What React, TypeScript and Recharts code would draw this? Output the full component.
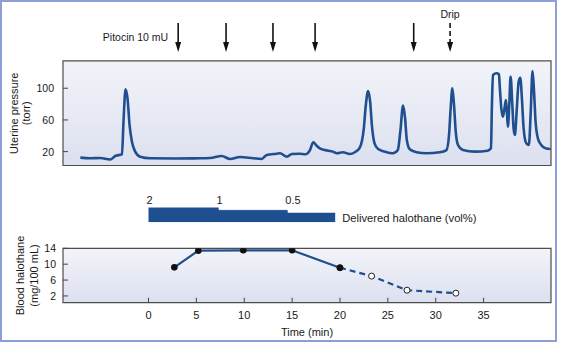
import React from "react";
import { LineChart, Line, AreaChart, Area, XAxis, YAxis, ReferenceArea, ReferenceLine } from "recharts";

const FONT = '"Liberation Sans", Arial, Helvetica, sans-serif';
const BLUE = "#1f4f8f";
const INK = "#1a1a1a";

// shared time axis (min)
const timeDomain: [number, number] = [-8.93, 42.04];
const timeTicks = [0, 5, 10, 15, 20, 25, 30, 35];

// uterine pressure trace
const uterineTime = [
  -7.12, -6.08, -5.04, -4.0, -3.47, -2.77, -2.61, -2.4, -2.19, -1.98, -1.73, -1.39, -0.87, 0.18, 2.78, 5.39,
  6.43, 7.65, 8.52, 9.56, 10.95, 11.82, 12.35, 13.39, 13.73, 14.46, 14.98, 15.82, 16.35, 16.87, 17.21, 17.56,
  17.9, 18.42, 19.26, 19.67, 20.3, 21.03, 21.55, 22.07, 22.49, 22.7, 22.94, 23.15, 23.33, 23.61, 23.98, 24.68,
  25.52, 26.04, 26.3, 26.59, 26.8, 26.98, 27.29, 27.99, 29.03, 30.42, 31.12, 31.39, 31.56, 31.74, 31.91, 32.09,
  32.33, 32.85, 34.07, 35.42, 35.77, 35.87, 35.98, 36.36, 36.6, 36.7, 36.85, 37.02, 37.19, 37.33, 37.43, 37.54,
  37.68, 37.82, 38.0, 38.13, 38.27, 38.45, 38.66, 38.83, 39.0, 39.18, 39.46, 39.73, 39.91, 40.11, 40.25, 40.43,
  40.67, 41.02, 41.47, 41.99,
];
const uterinePressure = [
  12.4, 11.6, 12.0, 10.0, 14.5, 16.7, 58, 98.7, 87, 53.6, 32.6, 20, 13.6, 11.6, 11.4, 11.6,
  12, 14.5, 10.7, 13.2, 11.6, 10.7, 15.8, 17.4, 17.9, 13.6, 17, 17.4, 16.6, 22, 31.8, 27.5,
  24.2, 22, 20, 17.9, 19.2, 17, 19.2, 25, 49.4, 78.9, 96.5, 83, 53.6, 30.5, 23.3, 20,
  17.9, 22, 45.2, 78, 62, 34.7, 23, 19.2, 17.9, 19.2, 22, 41, 74.7, 99.9, 78.9, 45.2,
  28.4, 22, 20, 21.2, 24.2, 78.9, 116.7, 118.9, 117.6, 99.9, 74.7, 64.1, 74.7, 85.2, 70.4, 51.5,
  78.9, 114.6, 78.9, 49.4, 41, 70.4, 108.3, 113.3, 87.3, 49.4, 30.5, 28.4, 66.2, 121.8, 99.9, 57.8,
  36.8, 28.4, 24.2, 23.3,
];
const pressureTicks = [20, 60, 100];
const pressurePanel: [number, number] = [2.5, 134.4];

// pitocin doses and drip start (min)
const pitocinTimes = [3.1, 8.1, 13.0, 17.4, 27.7];
const dripTime = 31.5;

// delivered halothane steps
const halothaneTime = [0, 7.3, 14.5, 19.5];
const halothaneLevel = [2, 1, 0.5, 0.5];
const halothaneLabels = ["2", "1", "0.5"];

// blood halothane (mg/100 mL)
const measuredTime = [2.7, 5.2, 9.9, 15.0, 20.0];
const measuredValue = [9.2, 13.4, 13.5, 13.5, 9.1];
const projectedTime = [20.0, 23.3, 27.0, 32.1];
const projectedValue = [9.1, 7.0, 3.45, 2.7];
const bloodTicks = [2, 6, 10, 14];

const uterineData = uterineTime.map((t, i) => ({ t, p: uterinePressure[i] }));
const halothaneData = halothaneTime.map((t, i) => ({ t, level: halothaneLevel[i] }));
const measuredData = measuredTime.map((t, i) => ({ t, v: measuredValue[i] }));
const projectedData = projectedTime.map((t, i) => ({ t, v: projectedValue[i] }));

function YTick(props: any) {
  const { x, y, payload, gap } = props;
  return (
    <g>
      <line x1={x} x2={x + 5} y1={y} y2={y} stroke="#444" strokeWidth={1} />
      <text x={x - gap} y={y} textAnchor="end" dominantBaseline="central" fontSize={10.5} fill={INK}>
        {payload.value}
      </text>
    </g>
  );
}

function XTick(props: any) {
  const { x, y, payload } = props;
  return (
    <g>
      <line x1={x} x2={x} y1={y - 5} y2={y} stroke="#444" strokeWidth={1} />
      <text x={x} y={y + 12.5} textAnchor="middle" dominantBaseline="central" fontSize={11} fill={INK}>
        {payload.value}
      </text>
    </g>
  );
}

function SideLabel(props: any) {
  const { viewBox, lines, offsets } = props;
  const cy = viewBox.y + viewBox.height / 2;
  return (
    <g>
      {lines.map((s: string, i: number) => {
        const x = viewBox.x - offsets[i];
        return (
          <text key={i} x={x} y={cy} transform={`rotate(-90 ${x} ${cy})`} textAnchor="middle"
            dominantBaseline="central" fontSize={11} fill={INK}>
            {s}
          </text>
        );
      })}
    </g>
  );
}

function Arrow(props: any) {
  const { x1, y1, y2, dashed, note, noteSide } = props;
  const top = Math.min(y1, y2);
  const tip = Math.max(y1, y2);
  return (
    <g>
      <line x1={x1} x2={x1} y1={top} y2={tip - 8} stroke="#111" strokeWidth={1.6}
        strokeDasharray={dashed ? "5 3" : undefined} />
      <polygon points={`${x1 - 3},${tip - 10} ${x1 + 3},${tip - 10} ${x1},${tip}`} fill="#111" />
      {note && noteSide === "left" && (
        <text x={x1 - 10} y={(top + tip) / 2} textAnchor="end" dominantBaseline="central" fontSize={10.5} fill={INK}>
          {note}
        </text>
      )}
      {note && noteSide === "top" && (
        <text x={x1} y={top - 9} textAnchor="middle" dominantBaseline="central" fontSize={10.5} fill={INK}>
          {note}
        </text>
      )}
    </g>
  );
}

function halothaneLabel(props: any) {
  const idx = props.index;
  const x = props.x ?? props.viewBox?.x;
  const y = props.y ?? props.viewBox?.y;
  if (idx === undefined || x === undefined) return null;
  if (idx < halothaneLabels.length) {
    return (
      <text key={idx} x={x - 2} y={10} textAnchor="start" dominantBaseline="central" fontSize={11} fill={INK}>
        {halothaneLabels[idx]}
      </text>
    );
  }
  return (
    <text key={idx} x={x + 7} y={y + 5} textAnchor="start" dominantBaseline="central" fontSize={11.2} fill={INK}>
      Delivered halothane (vol%)
    </text>
  );
}

const ARROW_TOP = 182.3;
const ARROW_TIP = 145.7;

export default function App() {
  return (
    <div style={{ position: "fixed", left: 0, top: 0, width: 561, height: 344, background: "#fff", fontFamily: FONT }}>
      <div style={{ position: "absolute", left: 0, top: 0, width: 557, height: 342, boxSizing: "border-box", border: "2px solid #8d9fd8" }} />

      <div style={{ position: "absolute", left: 0, top: 0 }}>
        <LineChart width={561} height={170} data={uterineData} margin={{ top: 5, right: 10, bottom: 4.5, left: 0 }}>
          <defs>
            <linearGradient id="panelTop" x1="0" y1="0" x2="0" y2="1">
              <stop offset="0" stopColor="#f3f4fa" />
              <stop offset="1" stopColor="#dce0ef" />
            </linearGradient>
          </defs>
          <XAxis type="number" dataKey="t" domain={timeDomain} allowDataOverflow hide />
          <YAxis type="number" domain={[2.5, 205]} allowDataOverflow ticks={pressureTicks} interval={0} width={63}
            axisLine={false} tickLine={false} tickSize={0} tickMargin={0} tick={(p: any) => <YTick {...p} gap={9} />} />
          <ReferenceArea x1={timeDomain[0]} x2={timeDomain[1]} y1={pressurePanel[0]} y2={pressurePanel[1]}
            fill="url(#panelTop)" fillOpacity={1} stroke="#4d4d4d" strokeWidth={1.2}
            label={<SideLabel lines={["Uterine pressure", "(torr)"]} offsets={[49, 37]} />} />
          {pitocinTimes.map((t, i) => (
            <ReferenceLine key={i} segment={[{ x: t, y: ARROW_TOP }, { x: t, y: ARROW_TIP }]}
              shape={(p: any) => <Arrow {...p} note={i === 0 ? "Pitocin 10 mU" : undefined} noteSide="left" />} />
          ))}
          <ReferenceLine segment={[{ x: dripTime, y: ARROW_TOP }, { x: dripTime, y: ARROW_TIP }]}
            shape={(p: any) => <Arrow {...p} dashed note="Drip" noteSide="top" />} />
          <Line type="monotone" dataKey="p" stroke={BLUE} strokeWidth={2.6} dot={false} isAnimationActive={false} />
        </LineChart>
      </div>

      <div style={{ position: "absolute", left: 0, top: 190 }}>
        <AreaChart width={561} height={40} data={halothaneData} margin={{ top: 17.5, right: 10, bottom: 7.7, left: 63 }}>
          <XAxis type="number" dataKey="t" domain={timeDomain} allowDataOverflow hide />
          <YAxis type="number" scale="log" domain={[0.0516, 2]} allowDataOverflow hide />
          <Area type="stepAfter" dataKey="level" baseValue="dataMin" fill="#1d4f91" fillOpacity={1} stroke="#17467f"
            strokeWidth={0.6} isAnimationActive={false} label={halothaneLabel} />
        </AreaChart>
      </div>

      <div style={{ position: "absolute", left: 0, top: 220 }}>
        <LineChart width={561} height={124} margin={{ top: 28.3, right: 10, bottom: 8.3, left: 0 }}>
          <defs>
            <linearGradient id="panelBottom" x1="0" y1="0" x2="0" y2="1">
              <stop offset="0" stopColor="#f3f4fa" />
              <stop offset="1" stopColor="#dce0ef" />
            </linearGradient>
          </defs>
          <XAxis type="number" dataKey="t" domain={timeDomain} allowDataOverflow ticks={timeTicks} interval={0}
            height={33} axisLine={false} tickLine={false} tickSize={0} tickMargin={0} tick={(p: any) => <XTick {...p} />}
            label={{ value: "Time (min)", position: "insideBottom", offset: 0, fill: INK, fontSize: 11 }} />
          <YAxis type="number" domain={[0.3, 14]} allowDataOverflow ticks={bloodTicks} interval={0} width={63}
            axisLine={false} tickLine={false} tickSize={0} tickMargin={0} tick={(p: any) => <YTick {...p} gap={7} />} />
          <ReferenceArea x1={timeDomain[0]} x2={timeDomain[1]} y1={0.3} y2={14}
            fill="url(#panelBottom)" fillOpacity={1} stroke="#4d4d4d" strokeWidth={1.2}
            label={<SideLabel lines={["Blood halothane", "(mg/100 mL)"]} offsets={[43, 29]} />} />
          <Line data={projectedData} dataKey="v" stroke={BLUE} strokeWidth={2.2} strokeDasharray="6 4"
            isAnimationActive={false}
            dot={(p: any) => <circle key={p.index} cx={p.cx} cy={p.cy} r={3} fill="#fff" stroke="#222" strokeWidth={1} />} />
          <Line data={measuredData} dataKey="v" stroke={BLUE} strokeWidth={2.2} isAnimationActive={false}
            dot={(p: any) => <circle key={p.index} cx={p.cx} cy={p.cy} r={3.3} fill="#111" />} />
        </LineChart>
      </div>
    </div>
  );
}
